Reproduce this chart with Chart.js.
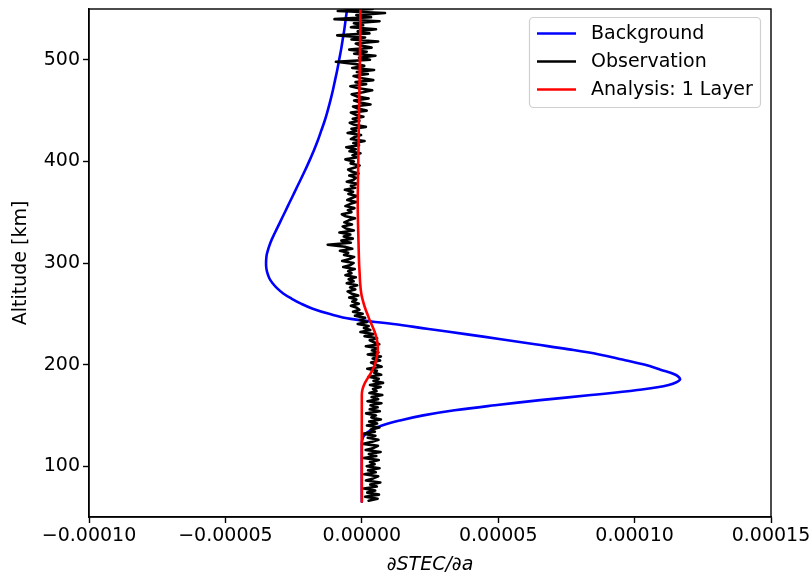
<!DOCTYPE html>
<html>
<head>
<meta charset="utf-8">
<script src="https://cdn.jsdelivr.net/npm/chart.js@4.4.1/dist/chart.umd.min.js"></script>
<style>
  html, body { margin: 0; padding: 0; background: #ffffff; }
  #wrap { width: 812px; height: 576px; }
</style>
</head>
<body>
<div id="wrap"><canvas id="c" width="812" height="576"></canvas></div>
<script>
// Sensitivity values below are listed in units of 1e-6 (dSTEC/da).
const UNIT = 1e-6;

// Background model profile
const bgAltitudes = [65, 120, 125, 130, 135, 140, 145, 150, 155, 160, 165, 170, 175, 180, 185, 190, 195,
  200, 205, 210, 215, 220, 225, 230, 235, 240, 245, 250, 255, 260, 265, 270, 275, 280, 285, 290, 295, 300,
  305, 310, 320, 330, 340, 350, 360, 370, 380, 390, 400, 410, 420, 430, 440, 450, 460, 470, 480, 490,
  500, 510, 520, 530, 540, 550];
const bgValues = [0, 0, 0.1, 0.8, 3.0, 7.4, 14.0, 22.5, 34.0, 48.8, 65.4, 84.0, 101.0, 112.5, 116.6, 115.0, 109.5,
  103.5, 95.5, 87.0, 76.0, 63.5, 51.0, 38.0, 24.5, 11.5, -4.0, -12.0, -18.0, -22.3, -25.8, -28.8, -31.0, -32.7, -33.9, -34.6, -35.0, -35.1,
  -35.0, -34.7, -33.5, -31.8, -30.0, -28.2, -26.4, -24.6, -22.8, -21.0, -19.3, -17.7, -16.2, -14.9, -13.6, -12.5, -11.5, -10.6, -9.8, -9.0,
  -8.3, -7.6, -7.0, -6.4, -5.9, -5.4];

// Analysis (1 layer) profile
const anAltitudes = [65, 170, 175, 180, 185, 190, 195, 200, 205, 210, 215, 220, 225, 230, 235, 240, 245, 250,
  255, 260, 265, 270, 280, 290, 300, 320, 340, 360, 380, 400, 450, 500, 550];
const anValues = [0, 0, 0.2, 0.8, 1.8, 3.0, 4.0, 4.8, 5.3, 5.7, 5.9, 5.8, 5.5, 5.0, 4.3, 3.5, 2.7, 2.0,
  1.3, 0.7, 0.2, -0.2, -0.6, -0.8, -1.0, -1.2, -1.4, -1.5, -1.4, -1.3, -1.0, -0.7, -0.5];

// Observed profile, sampled every 2 km starting at 66 km
const obsStartAlt = 66;
const obsStepAlt = 2;
const obsValues = [
  2.5, 5.8, 1.2, 6.3, 2.0, 4.9, 0.8, 5.5, 3.1, 6.8,
  1.5, 4.2, 6.0, 0.9, 5.1, 2.3, 6.5, 1.8, 4.7, 3.0,
  6.2, 0.7, 5.3, 2.6, 6.9, 1.4, 4.4, 5.9, 0.6, 3.8,
  6.1, 2.2, 5.0, 0.4, 4.8, 3.3, 6.4, 1.9, 5.6, 2.7,
  7.0, 3.5, 5.2, 1.6, 6.6, 2.9, 5.8, 3.2, 7.2, 2.1,
  6.0, 3.6, 7.5, 2.8, 5.4, 4.1, 6.9, 3.0, 7.8, 4.3,
  6.2, 2.5, 7.1, 4.6, 5.5, 2.0, 7.3, 5.0, 3.4, 6.7,
  4.0, 7.0, 2.2, 6.1, 3.7, 5.8, 1.5, 6.4, 4.5, 2.9,
  5.6, 1.0, 4.2, -0.5, 3.1, 0.8, 2.5, -1.5, 1.9, -0.8,
  1.2, -2.5, 0.3, -3.2, -0.9, -1.8, -4.0, -1.1, -3.5, -2.0,
  -4.6, -1.3, -3.9, -5.2, -2.4, -4.3, -1.7, -5.5, -3.0, -4.8,
  -2.2, -6.0, -3.8, -5.0, -2.6, -6.8, -4.1, -3.0, -7.2, -4.5,
  -2.8, -6.5, -5.0, -8.0, -3.5, -6.2, -12.5, -4.0, -7.5, -3.3,
  -6.6, -4.2, -8.2, -2.9, -5.8, -7.0, -3.6, -6.4, -4.8, -2.5,
  -5.9, -7.3, -3.8, -5.1, -2.7, -6.0, -4.4, -2.0, -5.3, -3.6,
  -1.8, -4.9, -3.2, -6.2, -2.4, -4.0, -1.5, -5.5, -3.0, -2.1,
  -4.6, -1.2, -3.7, -5.0, -2.5, -0.8, -4.1, -2.9, -6.0, -1.6,
  -3.4, -0.5, -4.5, -2.2, -5.7, -1.0, -3.1, 1.0, -4.0, -2.6,
  -0.3, -5.2, -2.0, -3.8, 1.5, -2.7, -4.4, -0.9, -3.3, 0.6,
  -2.4, -4.0, 1.8, -1.5, -3.2, 3.2, -0.6, -2.8, 2.5, -1.9,
  -3.7, 0.4, 3.8, -1.2, -4.2, 1.6, -2.3, 4.2, -0.5, -3.0,
  2.2, -1.8, 4.5, -3.5, 0.9, -2.6, -9.5, 3.0, -1.0, 5.0,
  -2.8, 1.8, -4.6, 3.6, -0.4, -2.2, 6.0, -3.8, 1.2, -9.0,
  2.8, -1.5, 5.2, -4.0, 0.5, -2.9, 6.5, -10.0, 3.4, -2.0,
  8.5, -8.8, 4.0
];

// Axis ticks
const xTicks = [-0.0001, -0.00005, 0, 0.00005, 0.0001, 0.00015];
const yTicks = [100, 200, 300, 400, 500];

const FONT = 'DejaVu Sans';
const FONT_SIZE = 19;

function toPoints(alts, vals) {
  return alts.map((a, i) => ({ x: vals[i] * UNIT, y: a }));
}
const obsAltitudes = obsValues.map((_, i) => obsStartAlt + obsStepAlt * i);

// Frame around the plotting area plus an inset legend box
const framePlugin = {
  id: 'frameAndLegend',
  afterDraw(chart) {
    const { ctx, chartArea: a } = chart;
    ctx.save();
    ctx.strokeStyle = '#000';
    ctx.lineWidth = 1.4;
    ctx.strokeRect(a.left, a.top, a.right - a.left, a.bottom - a.top);

    // legend
    const bx = 529.5, by = 17.5, bw = 231, bh = 90, r = 4;
    ctx.beginPath();
    ctx.moveTo(bx + r, by);
    ctx.lineTo(bx + bw - r, by);
    ctx.arcTo(bx + bw, by, bx + bw, by + r, r);
    ctx.lineTo(bx + bw, by + bh - r);
    ctx.arcTo(bx + bw, by + bh, bx + bw - r, by + bh, r);
    ctx.lineTo(bx + r, by + bh);
    ctx.arcTo(bx, by + bh, bx, by + bh - r, r);
    ctx.lineTo(bx, by + r);
    ctx.arcTo(bx, by, bx + r, by, r);
    ctx.closePath();
    ctx.fillStyle = 'rgba(255,255,255,0.8)';
    ctx.fill();
    ctx.strokeStyle = '#d0d0d0';
    ctx.lineWidth = 1.2;
    ctx.stroke();

    const rows = [33.5, 61.5, 89.5];
    const items = chart.data.datasets;
    ctx.font = FONT_SIZE + 'px "' + FONT + '"';
    ctx.textBaseline = 'middle';
    ctx.textAlign = 'left';
    items.forEach((ds, i) => {
      ctx.strokeStyle = ds.borderColor;
      ctx.lineWidth = 2.6;
      ctx.beginPath();
      ctx.moveTo(537, rows[i]);
      ctx.lineTo(576, rows[i]);
      ctx.stroke();
      ctx.fillStyle = '#000';
      ctx.fillText(ds.label, 591, rows[i] + 1);
    });
    ctx.restore();
  }
};

new Chart(document.getElementById('c'), {
  type: 'scatter',
  data: {
    datasets: [
      {
        label: 'Background',
        data: toPoints(bgAltitudes, bgValues),
        borderColor: '#0000ff',
        showLine: true, pointRadius: 0, borderWidth: 2.6, order: 3, tension: 0.4,
        borderJoinStyle: 'round', borderCapStyle: 'round'
      },
      {
        label: 'Observation',
        data: toPoints(obsAltitudes, obsValues),
        borderColor: '#000000',
        showLine: true, pointRadius: 0, borderWidth: 2.6, order: 2,
        borderJoinStyle: 'round', borderCapStyle: 'round'
      },
      {
        label: 'Analysis: 1 Layer',
        data: toPoints(anAltitudes, anValues),
        borderColor: '#ff0000',
        showLine: true, pointRadius: 0, borderWidth: 2.6, order: 1, tension: 0.4,
        borderJoinStyle: 'round', borderCapStyle: 'round'
      }
    ]
  },
  options: {
    responsive: false,
    animation: false,
    devicePixelRatio: 1,
    layout: { padding: { top: 9, right: 41, left: 0, bottom: 0 } },
    plugins: {
      legend: { display: false },
      tooltip: { enabled: false }
    },
    scales: {
      x: {
        type: 'linear',
        min: -0.0001,
        max: 0.00015,
        afterBuildTicks(scale) { scale.ticks = xTicks.map(v => ({ value: v })); },
        afterFit(scale) { scale.height = 59; scale.paddingLeft = 0; scale.paddingRight = 0; },
        grid: { drawOnChartArea: false, drawTicks: true, tickLength: 6, tickWidth: 1.4, tickColor: '#000' },
        border: { display: true, color: '#000', width: 1.4 },
        ticks: {
          color: '#000',
          font: { family: FONT, size: FONT_SIZE },
          padding: 2,
          maxRotation: 0,
          autoSkip: false,
          callback: v => v.toFixed(5).replace('-', '\u2212')
        },
        title: {
          display: true,
          text: '\u2202STEC/\u2202a',
          color: '#000',
          font: { family: FONT, size: FONT_SIZE, style: 'italic' },
          padding: { top: 0, bottom: 0 }
        }
      },
      y: {
        type: 'linear',
        min: 50,
        max: 550,
        afterBuildTicks(scale) { scale.ticks = yTicks.map(v => ({ value: v })); },
        afterFit(scale) { scale.width = 89; scale.paddingTop = 0; scale.paddingBottom = 0; },
        grid: { drawOnChartArea: false, drawTicks: true, tickLength: 6, tickWidth: 1.4, tickColor: '#000' },
        border: { display: true, color: '#000', width: 1.4 },
        ticks: {
          color: '#000',
          font: { family: FONT, size: FONT_SIZE },
          padding: 3,
          autoSkip: false,
          callback: v => String(v)
        },
        title: {
          display: true,
          text: 'Altitude [km]',
          color: '#000',
          font: { family: FONT, size: FONT_SIZE },
          padding: { top: 10, bottom: 0 }
        }
      }
    }
  },
  plugins: [framePlugin]
});
</script>
</body>
</html>
